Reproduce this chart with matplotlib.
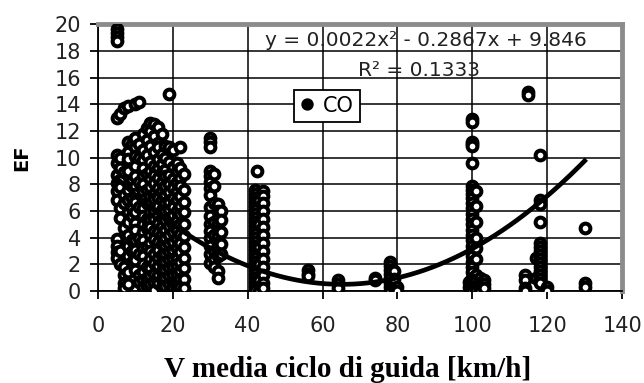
import matplotlib
matplotlib.use("Agg")
import matplotlib.pyplot as plt
import numpy as np

# EF (CO) values grouped by mean cycle speed [km/h]
ef_by_speed = {
    5: [19.6, 19.3, 19.0, 18.7, 13.0, 10.2, 9.6, 8.7, 8.1, 7.5, 6.8, 3.9, 3.4, 2.9, 2.5],
    6: [13.3, 10.0, 9.2, 8.3, 7.8, 6.2, 5.5, 3.0, 2.0],
    7: [13.7, 8.9, 7.2, 6.6, 4.7, 1.8, 1.2, 0.6, 0.2],
    8: [13.9, 11.2, 10.4, 9.9, 9.0, 7.6, 6.8, 5.9, 5.2, 4.2, 3.4, 2.6, 1.4, 0.5],
    9: [11.0, 8.3, 7.0, 6.2, 5.6, 3.8, 3.0, 2.2],
    10: [14.0, 11.5, 10.8, 10.1, 9.4, 8.6, 7.9, 7.3, 6.7, 5.9, 5.1, 4.6, 3.8, 3.1, 2.3, 1.6],
    11: [14.2, 11.0, 10.0, 8.2, 6.3, 4.0, 2.8, 1.2, 0.7],
    12: [11.8, 10.6, 9.8, 9.2, 8.6, 8.0, 7.4, 6.8, 6.2, 5.6, 5.0, 4.4, 3.8, 3.2, 2.6, 2.0, 1.4, 0.8, 0.3],
    13: [12.2, 11.3, 10.2, 8.8, 7.6, 6.6, 5.4, 4.7, 3.3, 1.8, 1.0, 0.4],
    14: [12.6, 12.0, 10.9, 9.7, 9.0, 8.4, 7.8, 7.1, 6.5, 5.9, 5.3, 4.8, 4.2, 3.6, 3.0, 2.4, 1.7, 1.1, 0.5],
    15: [12.5, 11.6, 10.4, 9.4, 8.7, 8.1, 7.3, 6.9, 6.0, 5.4, 4.5, 3.9, 2.8, 2.1, 1.3, 0.6, 0.1],
    16: [12.3, 11.1, 10.8, 9.9, 9.2, 8.5, 7.7, 7.0, 6.4, 5.7, 5.1, 4.4, 3.7, 3.1, 2.5, 1.9, 1.2, 0.6],
    17: [11.8, 10.3, 9.5, 8.9, 8.2, 7.5, 6.8, 6.1, 5.5, 4.9, 4.3, 3.5, 2.7, 2.2, 1.5, 0.9, 0.3],
    18: [10.9, 10.0, 9.1, 8.6, 7.9, 7.2, 6.6, 6.0, 5.3, 4.6, 4.0, 3.4, 2.8, 2.2, 1.6, 1.0, 0.4],
    19: [14.8, 10.8, 9.7, 8.7, 8.0, 7.4, 6.7, 6.1, 5.5, 4.9, 4.2, 3.5, 2.9, 2.3, 1.7, 1.1, 0.5],
    20: [10.6, 9.3, 8.4, 7.7, 7.0, 6.3, 5.7, 5.0, 4.4, 3.7, 3.0, 2.4, 1.8, 1.2, 0.6, 0.2],
    21: [9.6, 9.0, 8.2, 7.5, 6.8, 6.0, 5.3, 4.6, 3.9, 3.2, 2.5, 1.9, 1.3, 0.7, 0.2],
    22: [10.8, 9.2, 8.5, 7.9, 7.1, 6.4, 5.8, 5.0, 4.3, 3.6, 2.9, 2.2, 1.5, 0.9, 0.3],
    23: [8.8, 7.6, 6.7, 5.9, 5.0, 4.1, 3.3, 2.5, 1.7, 0.9, 0.2],
    30: [11.5, 11.2, 10.8, 9.0, 8.6, 8.2, 7.7, 7.2, 6.3, 5.6, 5.0, 4.5, 4.0, 3.4, 2.8, 2.1],
    31: [8.8, 7.9, 6.6, 5.2, 4.2, 3.0, 2.4, 1.8],
    32: [6.5, 6.0, 5.5, 5.0, 4.6, 4.1, 3.6, 3.1, 2.6, 1.5, 1.0],
    33: [6.0, 5.3, 4.4, 3.5, 2.8],
    42: [7.6, 7.3, 7.0, 6.7, 6.4, 6.1, 5.8, 5.5, 5.2, 4.9, 4.6, 4.3, 4.0, 3.7, 3.4,
         3.1, 2.8, 2.5, 2.2, 1.9, 1.6, 1.3, 1.0, 0.7, 0.4, 0.1],
    42.5: [9.0],
    43: [6.8, 5.0, 3.3, 2.0, 0.8, 0.0],
    44: [7.5, 7.1, 6.6, 6.0, 5.4, 4.8, 4.2, 3.6, 3.0, 2.4, 1.8, 1.2, 0.6, 0.2],
    56: [1.6, 1.3, 1.1],
    64: [0.8, 0.5, 0.2],
    74: [1.0, 0.8],
    78: [2.2, 1.9, 1.6, 1.3, 1.0, 0.6, 0.3, 0.0],
    79: [1.5, 0.9, 0.2],
    80: [0.3, 0.0],
    99: [0.7, 0.3],
    100: [12.9, 12.7, 11.2, 11.0, 10.9, 9.6, 7.9, 7.6, 7.3, 7.0, 6.6, 6.2, 5.8, 5.4, 5.0,
          4.6, 4.2, 3.8, 3.4, 3.0, 2.6, 2.2, 1.8, 1.4, 1.0, 0.6, 0.3, 0.0],
    101: [7.5, 6.4, 5.2, 4.0, 3.2, 2.4, 1.2, 0.8, 0.4, 0.1],
    102: [1.0, 0.6, 0.3, 0.0],
    103: [0.8, 0.5, 0.2],
    114: [1.2, 0.8, 0.2, 0.0],
    115: [14.9, 14.7],
    117: [2.5, 1.0],
    118: [10.2, 6.8, 6.5, 5.2, 3.6, 3.3, 3.0, 2.7, 2.4, 2.1, 1.8, 1.5, 1.2, 0.9, 0.6],
    120: [0.3, 0.0],
    130: [4.7, 0.6, 0.3],
}

# polynomial trendline coefficients (as printed on chart)
trend_coef = [0.0022, -0.2867, 9.846]
r_squared = 0.1333
trend_range = [5, 130]

x_ticks = [0, 20, 40, 60, 80, 100, 120, 140]
y_ticks = [0, 2, 4, 6, 8, 10, 12, 14, 16, 18, 20]

xs = [s for s, ys in ef_by_speed.items() for _ in ys]
ys = [v for s, vs in ef_by_speed.items() for v in vs]

font = "DejaVu Sans"
plt.rcParams["font.family"] = [font]

fig = plt.figure(figsize=(6.44, 3.83), dpi=100)
ax = fig.add_axes([0.152, 0.240, 0.814, 0.697])

ax.set_xlim(0, 140)
ax.set_ylim(0, 20)
ax.set_xticks(x_ticks)
ax.set_yticks(y_ticks)
ax.grid(True, color="black", linewidth=1.1)
ax.set_axisbelow(True)

ax.plot(xs, ys, linestyle="none", marker="o", markersize=7,
        markerfacecolor="white", markeredgecolor="black",
        markeredgewidth=2.9, label="CO", zorder=3)

xt = np.linspace(trend_range[0], trend_range[1], 200)
yt = np.polyval(trend_coef, xt)
ax.plot(xt, yt, color="black", linewidth=3.4, zorder=4)

ax.tick_params(axis="both", direction="out", length=6, width=1.3, color="black",
               labelsize=15, labelcolor="#222222")
ax.tick_params(axis="y", pad=6)
ax.tick_params(axis="x", pad=12)

for side in ["left", "bottom"]:
    ax.spines[side].set_color("black")
    ax.spines[side].set_linewidth(1.3)
for side in ["top", "right"]:
    ax.spines[side].set_color("#8c8c8c")
    ax.spines[side].set_linewidth(3.5)

ax.text(87.7, 18.75,
        f"y = {trend_coef[0]:.4f}x\u00b2 - {abs(trend_coef[1]):.4f}x + {trend_coef[2]:.3f}",
        ha="center", va="center", fontsize=14.5, color="#222222", zorder=5)
ax.text(85.8, 16.5, f"R\u00b2 = {r_squared:.4f}", ha="center", va="center",
        fontsize=14.5, color="#222222", zorder=5)

leg = ax.legend(loc="upper left", bbox_to_anchor=(0.374, 0.755), frameon=True,
                fancybox=False, framealpha=1, edgecolor="black",
                prop={"size": 15}, handlelength=0.7,
                handletextpad=0.4, borderpad=0.3, borderaxespad=0)
leg.get_frame().set_linewidth(1.3)
leg.set_zorder(6)
for h in leg.legend_handles:
    h.set_markerfacecolor("black")
    h.set_markersize(6)

ax.set_xlabel("V media ciclo di guida [km/h]", family="Liberation Serif",
              fontweight="bold", fontsize=21)
ax.xaxis.set_label_coords(0.477, -0.245)
ax.set_ylabel("EF", fontweight="bold", fontsize=14)
ax.yaxis.set_label_coords(-0.128, 0.50)

fig.savefig("out.png", dpi=100)
